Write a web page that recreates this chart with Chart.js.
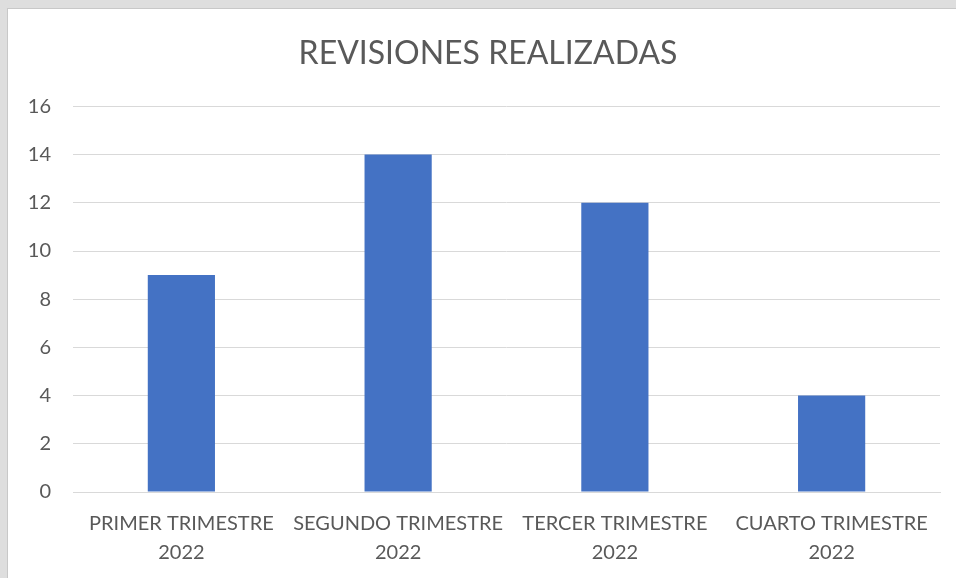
<!DOCTYPE html>
<html>
<head>
<meta charset="utf-8">
<script src="https://cdn.jsdelivr.net/npm/chart.js@4/dist/chart.umd.min.js"></script>
<style>
  html, body { margin: 0; padding: 0; background: #dedede; }
  #box {
    position: absolute; left: 7px; top: 8px; width: 949px; height: 570px;
    background: #ffffff; border-left: 1px solid #c8c8c8; border-top: 1px solid #c8c8c8;
    box-sizing: border-box;
  }
</style>
</head>
<body>
<div id="box"><canvas id="revChart"></canvas></div>
<script>
const categories = [
    ['PRIMER TRIMESTRE', '2022'],
    ['SEGUNDO TRIMESTRE', '2022'],
    ['TERCER TRIMESTRE', '2022'],
    ['CUARTO TRIMESTRE', '2022']
]
const revisiones = [9, 14, 12, 4]
const yTicks = [0, 2, 4, 6, 8, 10, 12, 14, 16]

const textColor = '#595959'
const fontFamily = 'Lato, "Open Sans", sans-serif'

// nudge the title a bit to the right, like the original
const titleShift = {
    id: 'titleShift',
    afterLayout: chart => {
        if (chart.titleBlock) chart.titleBlock.left += 28
    }
}

const revChart = new Chart(document.getElementById('revChart'), {
    type: 'bar',
    data: {
        labels: categories,
        datasets: [{
            label: 'Revisiones',
            data: revisiones,
            backgroundColor: '#4472c4',
            barPercentage: 0.31,
            categoryPercentage: 1
        }]
    },
    options: {
        responsive: true,
        maintainAspectRatio: false,
        animation: false,
        layout: { padding: { top: 25, right: 16, left: 0, bottom: 0 } },
        plugins: {
            legend: { display: false },
            tooltip: { enabled: false },
            title: {
                display: true,
                text: 'REVISIONES REALIZADAS',
                color: textColor,
                font: { family: fontFamily, size: 32, weight: 'normal' },
                padding: { top: 0, bottom: 34 }
            }
        },
        scales: {
            x: {
                afterFit: axis => { axis.height = 86 },
                grid: { display: false, drawTicks: false },
                border: { color: '#d9d9d9', width: 1 },
                ticks: {
                    color: textColor,
                    font: { family: fontFamily, size: 20, lineHeight: 1.45 },
                    padding: 17,
                    maxRotation: 0,
                    autoSkip: false
                }
            },
            y: {
                min: 0,
                max: 16,
                afterBuildTicks: axis => { axis.ticks = yTicks.map(v => ({ value: v })) },
                afterFit: axis => { axis.width = 65 },
                grid: { color: '#d9d9d9', drawTicks: false },
                border: { display: false },
                ticks: {
                    color: textColor,
                    font: { family: fontFamily, size: 20 },
                    padding: 22
                }
            }
        }
    },
    plugins: [titleShift]
})
</script>
</body>
</html>
